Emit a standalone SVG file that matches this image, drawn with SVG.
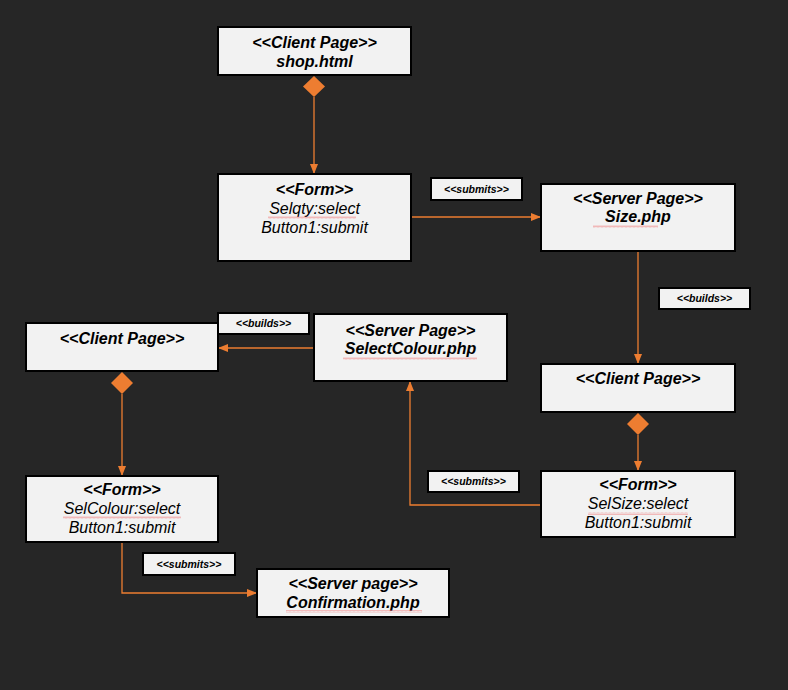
<svg xmlns="http://www.w3.org/2000/svg" width="788" height="690" viewBox="0 0 788 690">
<style>
.box{fill:#f2f2f2;stroke:#000;stroke-width:2}
.t{font-family:"Liberation Sans",Arial,sans-serif;font-size:16px;font-style:italic;fill:#000;text-anchor:middle}
.b{font-weight:bold}
.lbl{font-family:"Liberation Sans",Arial,sans-serif;font-size:10.5px;font-style:italic;font-weight:bold;fill:#000;text-anchor:middle}
.c{fill:none;stroke:#ed7d31;stroke-width:1.3}
.dia{fill:#ed7d31}
.sq{fill:url(#squig)}
</style>
<defs>
<marker id="ah" markerUnits="userSpaceOnUse" markerWidth="10" markerHeight="10" viewBox="0 0 10 10" refX="10" refY="5" orient="auto">
<path d="M0,1 L10,5 L0,9 Z" fill="#ed7d31"/>
</marker>
<pattern id="squig" patternUnits="userSpaceOnUse" width="4" height="3">
<polyline points="0,2.5 1,0.5 2,2.5 3,0.5 4,2.5" fill="none" stroke="#f08080" stroke-width="0.5"/>
</pattern>
</defs>
<rect width="788" height="690" fill="#262626"/>

<g id="connectors">
<path class="dia" d="M314,76 L325,86.5 L314,97 L303,86.5 Z"/>
<path class="c" d="M314,97 L314,174" marker-end="url(#ah)"/>
<path class="c" d="M411,217 L541,217" marker-end="url(#ah)"/>
<path class="c" d="M638,251 L638,364" marker-end="url(#ah)"/>
<path class="dia" d="M638,413 L649,424 L638,435 L627,424 Z"/>
<path class="c" d="M638,435 L638,471" marker-end="url(#ah)"/>
<path class="c" d="M541,505 L410,505 L410,381" marker-end="url(#ah)"/>
<path class="c" d="M314,348 L218,348" marker-end="url(#ah)"/>
<path class="dia" d="M122,372 L133,383 L122,394 L111,383 Z"/>
<path class="c" d="M122,394 L122,476" marker-end="url(#ah)"/>
<path class="c" d="M122,542 L122,593 L257,593" marker-end="url(#ah)"/>
</g>

<g id="shop">
<rect class="box" x="218" y="27" width="193" height="48"/>
<text class="t b" x="314.5" y="48">&lt;&lt;Client Page&gt;&gt;</text>
<text class="t b" x="314.5" y="67">shop.html</text>
</g>

<g id="form1">
<rect class="box" x="218" y="174" width="193" height="87"/>
<text class="t b" x="314.5" y="195">&lt;&lt;Form&gt;&gt;</text>
<text class="t" x="314.5" y="214">Selqty:select</text>
<text class="t" x="314.5" y="233">Button1:submit</text>
<rect class="sq" x="268" y="216" width="88" height="3"/>
</g>

<g id="lbl-submits1">
<rect class="box" x="431" y="178" width="91" height="22"/>
<text class="lbl" x="476.5" y="193">&lt;&lt;submits&gt;&gt;</text>
</g>

<g id="sizephp">
<rect class="box" x="541" y="184" width="194" height="67"/>
<text class="t b" x="638" y="204">&lt;&lt;Server Page&gt;&gt;</text>
<text class="t b" x="638" y="222">Size.php</text>
<rect class="sq" x="593" y="225" width="65" height="3"/>
</g>

<g id="lbl-builds1">
<rect class="box" x="659" y="288" width="91" height="21"/>
<text class="lbl" x="704.5" y="302">&lt;&lt;builds&gt;&gt;</text>
</g>

<g id="client-right">
<rect class="box" x="541" y="364" width="194" height="48"/>
<text class="t b" x="638" y="384">&lt;&lt;Client Page&gt;&gt;</text>
</g>

<g id="form-right">
<rect class="box" x="541" y="471" width="194" height="66"/>
<text class="t b" x="638" y="490">&lt;&lt;Form&gt;&gt;</text>
<text class="t" x="638" y="509">SelSize:select</text>
<text class="t" x="638" y="528">Button1:submit</text>
<rect class="sq" x="588" y="512" width="100" height="3"/>
</g>

<g id="lbl-submits2">
<rect class="box" x="428" y="471" width="91" height="21"/>
<text class="lbl" x="473.5" y="485">&lt;&lt;submits&gt;&gt;</text>
</g>

<g id="selectcolour">
<rect class="box" x="314" y="314" width="193" height="67"/>
<text class="t b" x="410.5" y="336">&lt;&lt;Server Page&gt;&gt;</text>
<text class="t b" x="410.5" y="354">SelectColour.php</text>
<rect class="sq" x="343" y="357" width="134" height="3"/>
</g>

<g id="lbl-builds2">
<rect class="box" x="218" y="313" width="91" height="21"/>
<text class="lbl" x="263.5" y="327">&lt;&lt;builds&gt;&gt;</text>
</g>

<g id="client-left">
<rect class="box" x="26" y="323" width="192" height="48"/>
<text class="t b" x="122" y="344">&lt;&lt;Client Page&gt;&gt;</text>
</g>

<g id="form-left">
<rect class="box" x="26" y="476" width="192" height="66"/>
<text class="t b" x="122" y="495">&lt;&lt;Form&gt;&gt;</text>
<text class="t" x="122" y="514">SelColour:select</text>
<text class="t" x="122" y="533">Button1:submit</text>
<rect class="sq" x="63" y="516" width="118" height="3"/>
</g>

<g id="lbl-submits3">
<rect class="box" x="143" y="553" width="92" height="22"/>
<text class="lbl" x="189" y="568">&lt;&lt;submits&gt;&gt;</text>
</g>

<g id="confirmation">
<rect class="box" x="257" y="569" width="192" height="48"/>
<text class="t b" x="353" y="589">&lt;&lt;Server page&gt;&gt;</text>
<text class="t b" x="353" y="608">Confirmation.php</text>
<rect class="sq" x="286" y="610" width="136" height="3"/>
</g>
</svg>
